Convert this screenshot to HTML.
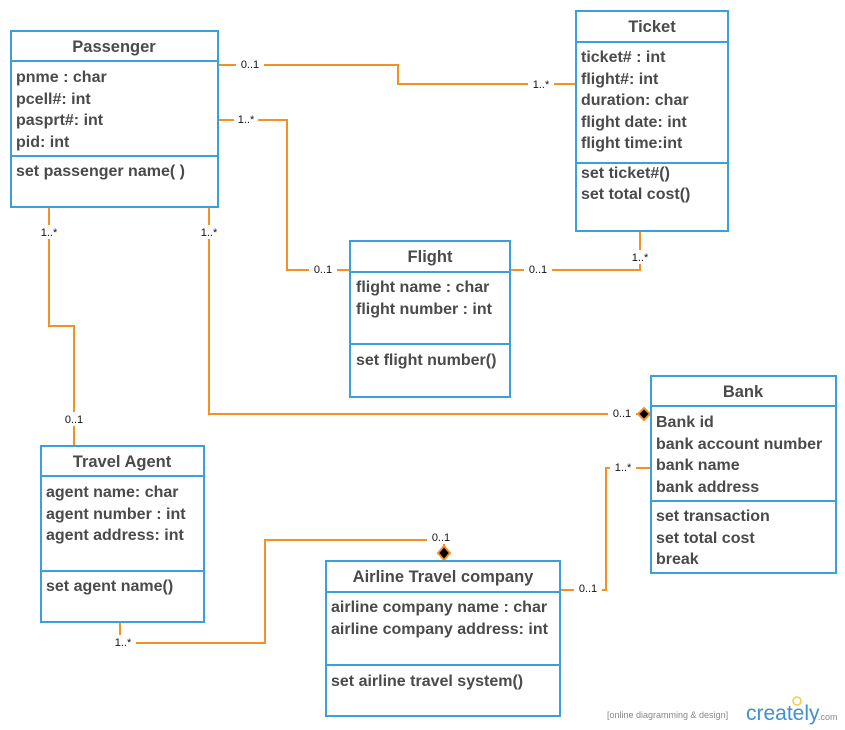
<!DOCTYPE html>
<html><head><style>
body{margin:0;background:#fff}
svg{display:block}
.t{font-family:"Liberation Sans",sans-serif;font-size:16px;fill:#4a4a4a;font-weight:bold}
.h{font-family:"Liberation Sans",sans-serif;font-size:16.5px;fill:#4a4a4a;font-weight:bold;text-anchor:middle}
.l{font-family:"Liberation Sans",sans-serif;font-size:11px;fill:#111;text-anchor:middle}
.b{fill:#fff;stroke:#3aa0dc;stroke-width:2}
.d{stroke:#3aa0dc;stroke-width:2}
.c{fill:none;stroke:#f39223;stroke-width:2}
.lb{fill:#fff}
</style></head><body>
<svg width="845" height="730" viewBox="0 0 845 730">
<!-- connectors -->
<polyline class="c" points="218,65 398,65 398,84 576,84"/>
<polyline class="c" points="218,120 287,120 287,270 350,270"/>
<polyline class="c" points="510,270 640,270 640,231"/>
<polyline class="c" points="49,207 49,326 74,326 74,446"/>
<polyline class="c" points="209,207 209,414 640,414"/>
<polyline class="c" points="120,622 120,643 265,643 265,540 444,540 444,546"/>
<polyline class="c" points="560,590 606,590 606,468 651,468"/>
<polygon points="638,414 644,408 650,414 644,420" fill="#000" stroke="#f39223" stroke-width="2"/>
<polygon points="444,546 450,553 444,560 438,553" fill="#000" stroke="#f39223" stroke-width="2"/>
<!-- labels -->
<g>
<rect class="lb" x="236" y="57" width="28" height="14"/><text class="l" x="250" y="68">0..1</text>
<rect class="lb" x="528" y="76" width="26" height="14"/><text class="l" x="541" y="88">1..*</text>
<rect class="lb" x="234" y="112" width="24" height="14"/><text class="l" x="246" y="123">1..*</text>
<rect class="lb" x="309" y="262" width="28" height="14"/><text class="l" x="323" y="273">0..1</text>
<rect class="lb" x="524" y="262" width="28" height="14"/><text class="l" x="538" y="273">0..1</text>
<rect class="lb" x="628" y="250" width="24" height="14"/><text class="l" x="640" y="261">1..*</text>
<rect class="lb" x="37" y="225" width="24" height="14"/><text class="l" x="49" y="236">1..*</text>
<rect class="lb" x="197" y="225" width="24" height="14"/><text class="l" x="209" y="236">1..*</text>
<rect class="lb" x="60" y="412" width="28" height="14"/><text class="l" x="74" y="423">0..1</text>
<rect class="lb" x="608" y="406" width="28" height="14"/><text class="l" x="622" y="417">0..1</text>
<rect class="lb" x="110" y="635" width="26" height="14"/><text class="l" x="123" y="646">1..*</text>
<rect class="lb" x="427" y="530" width="28" height="14"/><text class="l" x="441" y="541">0..1</text>
<rect class="lb" x="574" y="581" width="28" height="14"/><text class="l" x="588" y="592">0..1</text>
<rect class="lb" x="610" y="460" width="26" height="14"/><text class="l" x="623" y="471">1..*</text>
</g>
<!-- Passenger -->
<rect class="b" x="11" y="31" width="207" height="176"/>
<line class="d" x1="11" y1="61" x2="218" y2="61"/><line class="d" x1="11" y1="156" x2="218" y2="156"/>
<text class="h" x="114" y="52">Passenger</text>
<text class="t" x="16" y="82">pnme : char</text><text class="t" x="16" y="104">pcell#: int</text>
<text class="t" x="16" y="125">pasprt#: int</text><text class="t" x="16" y="147">pid: int</text>
<text class="t" x="16" y="176">set passenger name( )</text>
<!-- Ticket -->
<rect class="b" x="576" y="11" width="152" height="220"/>
<line class="d" x1="576" y1="42" x2="728" y2="42"/><line class="d" x1="576" y1="163" x2="728" y2="163"/>
<text class="h" x="652" y="32">Ticket</text>
<text class="t" x="581" y="62">ticket# : int</text><text class="t" x="581" y="84">flight#: int</text>
<text class="t" x="581" y="105">duration: char</text><text class="t" x="581" y="127">flight date: int</text>
<text class="t" x="581" y="148">flight time:int</text>
<text class="t" x="581" y="178">set ticket#()</text><text class="t" x="581" y="199">set total cost()</text>
<!-- Flight -->
<rect class="b" x="350" y="241" width="160" height="156"/>
<line class="d" x1="350" y1="272" x2="510" y2="272"/><line class="d" x1="350" y1="344" x2="510" y2="344"/>
<text class="h" x="430" y="262">Flight</text>
<text class="t" x="356" y="292">flight name : char</text><text class="t" x="356" y="314">flight number : int</text>
<text class="t" x="356" y="365">set flight number()</text>
<!-- Bank -->
<rect class="b" x="651" y="376" width="185" height="197"/>
<line class="d" x1="651" y1="406" x2="836" y2="406"/><line class="d" x1="651" y1="501" x2="836" y2="501"/>
<text class="h" x="743" y="397">Bank</text>
<text class="t" x="656" y="427">Bank id</text><text class="t" x="656" y="449">bank account number</text>
<text class="t" x="656" y="470">bank name</text><text class="t" x="656" y="492">bank address</text>
<text class="t" x="656" y="521">set transaction</text><text class="t" x="656" y="543">set total cost</text>
<text class="t" x="656" y="564">break</text>
<!-- Travel Agent -->
<rect class="b" x="41" y="446" width="163" height="176"/>
<line class="d" x1="41" y1="476" x2="204" y2="476"/><line class="d" x1="41" y1="571" x2="204" y2="571"/>
<text class="h" x="122" y="467">Travel Agent</text>
<text class="t" x="46" y="497">agent name: char</text><text class="t" x="46" y="519">agent number : int</text>
<text class="t" x="46" y="540">agent address: int</text>
<text class="t" x="46" y="591">set agent name()</text>
<!-- Airline -->
<rect class="b" x="326" y="561" width="234" height="155"/>
<line class="d" x1="326" y1="592" x2="560" y2="592"/><line class="d" x1="326" y1="665" x2="560" y2="665"/>
<text class="h" x="443" y="582">Airline Travel company</text>
<text class="t" x="331" y="612">airline company name : char</text><text class="t" x="331" y="634">airline company address: int</text>
<text class="t" x="331" y="686">set airline travel system()</text>
<!-- watermark -->
<text x="607" y="718" style="font-family:'Liberation Sans',sans-serif;font-size:9px;fill:#888">[online diagramming &amp; design]</text>
<text x="746" y="720" style="font-family:'Liberation Sans',sans-serif;font-size:21px;fill:#3f8fd0">creately</text>
<text x="818" y="720" style="font-family:'Liberation Sans',sans-serif;font-size:9px;fill:#888">.com</text>
<circle cx="797" cy="701" r="4" fill="none" stroke="#f7c948" stroke-width="1.5"/>
</svg>
</body></html>
